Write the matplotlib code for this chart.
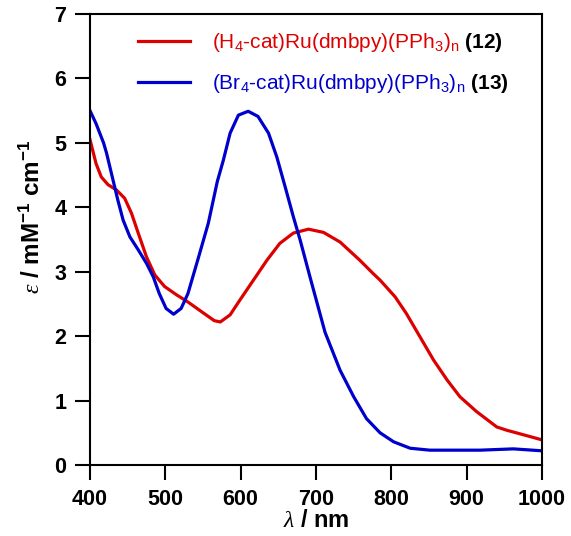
import matplotlib
matplotlib.use('Agg')
import matplotlib.pyplot as plt

plt.rcParams['font.family'] = 'Liberation Sans'
plt.rcParams['mathtext.fontset'] = 'custom'
plt.rcParams['mathtext.rm'] = 'Liberation Sans'
plt.rcParams['mathtext.bf'] = 'Liberation Sans:bold'
plt.rcParams['mathtext.it'] = 'Liberation Serif:italic'
plt.rcParams['mathtext.default'] = 'regular'

# absorption spectra, wavelength in nm, epsilon in mM^-1 cm^-1
wl_12 = [400, 408, 415, 424, 435, 446, 455, 464, 475, 486, 499, 515, 530, 548,
         565, 573, 586, 599, 617, 635, 652, 670, 690, 710, 732, 758, 776, 785,
         805, 820, 838, 856, 874, 891, 913, 940, 953, 975, 1000]
eps_12 = [5.05, 4.68, 4.47, 4.35, 4.27, 4.14, 3.91, 3.60, 3.23, 2.95, 2.77, 2.64,
          2.53, 2.38, 2.24, 2.22, 2.33, 2.56, 2.87, 3.18, 3.44, 3.60, 3.66, 3.61,
          3.46, 3.18, 2.97, 2.87, 2.61, 2.35, 1.99, 1.63, 1.32, 1.06, 0.83, 0.59,
          0.54, 0.47, 0.39]

wl_13 = [400, 408, 413, 418, 422, 430, 437, 444, 453, 464, 475, 484, 492, 501,
         511, 521, 530, 543, 557, 569, 577, 586, 597, 610, 623, 637, 648, 659,
         670, 679, 692, 712, 732, 750, 767, 785, 803, 825, 851, 918, 962, 1000]
eps_13 = [5.50, 5.30, 5.15, 5.00, 4.84, 4.45, 4.11, 3.80, 3.54, 3.34, 3.13, 2.92,
          2.66, 2.43, 2.34, 2.43, 2.66, 3.18, 3.75, 4.40, 4.73, 5.15, 5.43, 5.49,
          5.41, 5.15, 4.78, 4.32, 3.85, 3.49, 2.92, 2.06, 1.47, 1.06, 0.72, 0.50,
          0.36, 0.26, 0.23, 0.23, 0.25, 0.22]

labels = [r'(H$_4$-cat)Ru(dmbpy)(PPh$_3$)$_n$', r'(Br$_4$-cat)Ru(dmbpy)(PPh$_3$)$_n$']
numbers = [r' $\mathbf{(12)}$', r' $\mathbf{(13)}$']
colors = ['#dd0000', '#0000cc']

fig = plt.figure(figsize=(5.71, 5.36), dpi=100)
ax = fig.add_axes([0.1576, 0.1325, 0.7916, 0.8414])

ax.plot(wl_12, eps_12, color=colors[0], lw=2.3, label=labels[0], solid_joinstyle='round')
ax.plot(wl_13, eps_13, color=colors[1], lw=2.3, label=labels[1], solid_joinstyle='round')

ax.set_xlim(400, 1000)
ax.set_ylim(0, 7)
ax.set_xticks(range(400, 1001, 100))
ax.set_yticks(range(0, 8))
for s in ax.spines.values():
    s.set_linewidth(1.5)
ax.tick_params(direction='out', length=11, width=1.5, labelsize=15.5, pad=6)
for t in ax.get_xticklabels() + ax.get_yticklabels():
    t.set_fontweight('bold')

ax.set_xlabel(r'$\it{\lambda}$ / nm', fontsize=17, fontweight='bold')
ax.xaxis.set_label_coords(0.5, -0.098)
ax.set_ylabel(r'$\it{\varepsilon}$ / mM$^{\mathbf{-1}}$ cm$^{\mathbf{-1}}$',
              fontsize=17.5, fontweight='bold')
ax.yaxis.set_label_coords(-0.1, 0.55)

leg = ax.legend(loc='upper left', bbox_to_anchor=(0.106, 0.962), frameon=False,
                fontsize=15, handlelength=2.5, handletextpad=1.05, labelspacing=0.85,
                borderpad=0, borderaxespad=0, labelcolor='linecolor')

# black compound numbers after each legend entry
fig.canvas.draw()
for txt, num in zip(leg.get_texts(), numbers):
    bb = txt.get_window_extent()
    ax.annotate(num, xy=(bb.x1, bb.y0), xycoords='figure pixels', va='bottom',
                ha='left', fontsize=15, color='black')

fig.savefig('out.png', dpi=100)
